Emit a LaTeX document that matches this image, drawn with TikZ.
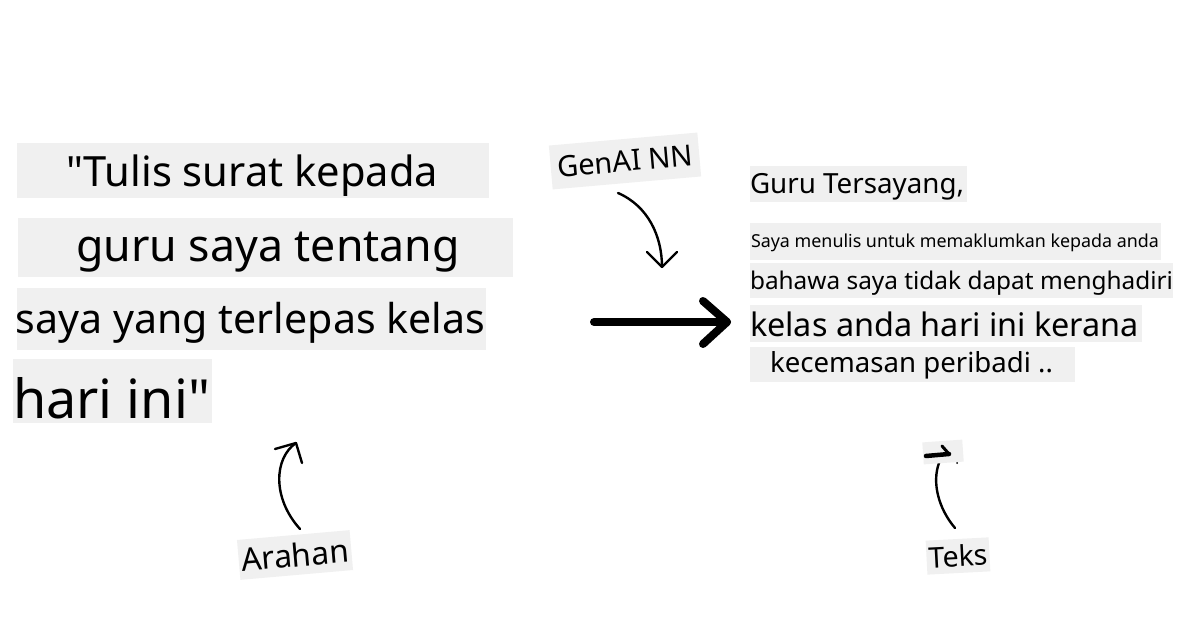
\documentclass[tikz,border=0pt]{standalone}
\usepackage{fontspec}
\usepackage{graphicx}
\setmainfont{Noto Sans}[Ligatures=TeXOff]
\definecolor{boxgray}{RGB}{240,240,240}
\newcommand{\fitto}[2]{\resizebox{#1pt}{!}{\fontsize{30}{36}\selectfont #2}}
\begin{document}
\begin{tikzpicture}[x=1pt,y=-1pt,
  every node/.style={inner sep=0pt,outer sep=0pt},
  txt/.style={anchor=base west},
  bgbox/.style={fill=boxgray},
  lbl/.style={fill=boxgray,align=center},
  conn/.style={line width=2.4pt,line cap=round,line join=round},
  bigconn/.style={line width=8pt,line cap=round,line join=round}]
\useasboundingbox (0,0) rectangle (1200,628);
\fill[white] (0,0) rectangle (1200,628);

% left prompt boxes
\fill[bgbox] (17,143) rectangle (489,198);
\fill[bgbox] (18,218) rectangle (513,277);
\fill[bgbox] (17,288) rectangle (486,350);
\fill[bgbox] (13,359) rectangle (212,423);
\node[txt] (p1) at (66,187) {\fitto{372}{"Tulis surat kepada}};
\node[txt] (p2) at (76,262) {\fitto{384}{guru saya tentang}};
\node[txt] (p3) at (16,334) {\fitto{469}{saya yang terlepas kelas}};
\node[txt] (p4) at (13,418) {\fitto{197}{hari ini"}};

% right output boxes
\fill[bgbox] (750,166) rectangle (967,202);
\fill[bgbox] (750,223) rectangle (1161,260);
\fill[bgbox] (750,263) rectangle (1173,298);
\fill[bgbox] (750,305) rectangle (1142,342);
\fill[bgbox] (750,347) rectangle (1075,382);
\node[txt] (r1) at (750,194) {\fitto{214}{Guru Tersayang,}};
\node[txt] (r2) at (751,248) {\fitto{408}{Saya menulis untuk memaklumkan kepada anda}};
\node[txt] (r3) at (750,290) {\fitto{423}{bahawa saya tidak dapat menghadiri}};
\node[txt] (r4) at (750,337) {\fitto{389}{kelas anda hari ini kerana}};
\node[txt] (r5) at (770,373) {\fitto{283}{kecemasan peribadi ..}};

% labels
\node[lbl,rotate=5,minimum width=149pt,minimum height=44pt] (genai) at (625,161) {\fitto{136}{GenAI NN}};
\node[lbl,rotate=5,minimum width=113pt,minimum height=40pt] (arahan) at (295,555) {\fitto{108}{Arahan}};
\node[lbl,rotate=3,minimum width=63pt,minimum height=34pt] (teks) at (958,556) {\fitto{59}{Teks}};

% big arrow
\coordinate (a1) at (594,322);
\coordinate (a2) at (727,322);
\draw[bigconn] (a1) -- (a2);
\draw[bigconn] (703,301) -- (a2) -- (703,344);

% GenAI arrow
\coordinate (g1) at (618,193);
\coordinate (g2) at (662,267);
\draw[conn] (g1) .. controls (648,206) and (662,236) .. (g2);
\draw[conn] (647,252) -- (g2) -- (677,252);

% Arahan arrow
\coordinate (h1) at (300,529);
\coordinate (h2) at (296,443);
\draw[conn] (h1) .. controls (272,498) and (274,458) .. (h2);
\draw[conn] (275,449) -- (h2) -- (302,463);

% Teks arrow
\coordinate (t1) at (955,528);
\coordinate (t2) at (939,463);
\draw[conn] (t1) .. controls (938,508) and (932,482) .. (t2);
\node[fill=boxgray,rotate=4,minimum width=40pt,minimum height=22pt] (tk) at (943,452) {};
\draw[line width=4.5pt,line cap=round] (926,456) -- (949,454);
\draw[line width=3pt,line cap=round] (942,446) -- (949,454);
\fill (957,463) circle (1pt);
\end{tikzpicture}
\end{document}
